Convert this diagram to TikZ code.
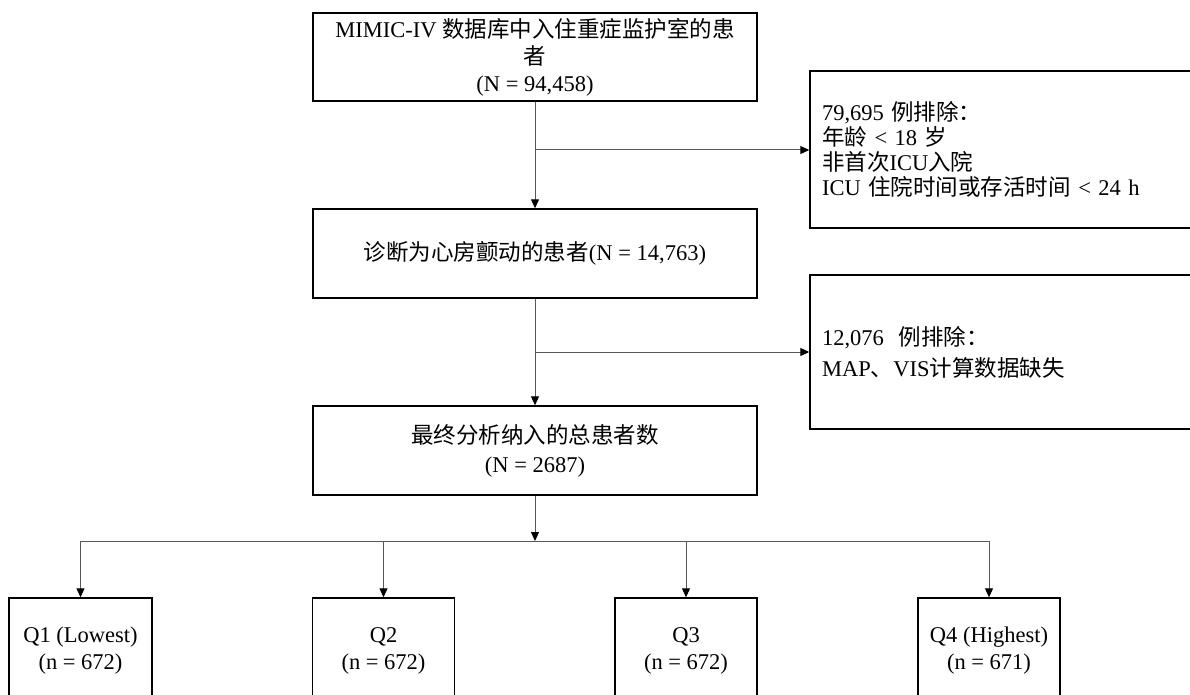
\documentclass[tikz,border=0pt]{standalone}
\usepackage{fontspec}
\setmainfont{Liberation Serif}
\newfontfamily\cjk{Noto Sans CJK SC}
\usetikzlibrary{arrows.meta}
\begin{document}
\begin{tikzpicture}[x=1pt,y=-1pt,
  box/.style={draw=black,line width=1.4pt,rectangle,inner sep=0pt,align=center,
    font=\fontsize{22.5}{27}\selectfont},
  exbox/.style={box,align=left,inner xsep=12pt},
  conn/.style={draw=black!65,line width=1pt},
  arr/.style={conn,-{Triangle[length=9pt,width=8pt,color=black]}}]
\useasboundingbox (0,0) rectangle (1190,695);
\fill[white] (0,0) rectangle (1190,695);
\clip (0,0) rectangle (1190,695);

\node[box,minimum width=444pt,minimum height=88pt] (top) at (535,57)
  {MIMIC-IV {\cjk 数据库中入住重症监护室的患}\\{\cjk 者}\\(N = 94,458)};
\node[exbox,text width=376pt,minimum height=157pt,font=\fontsize{22.5}{25}\selectfont] (ex1) at (1010,149.5)
  {79,695 {\cjk 例排除：}\\{\cjk 年龄} < 18 {\cjk 岁}\\{\cjk 非首次}ICU{\cjk 入院}\\ICU {\cjk 住院时间或存活时间} < 24 h};
\node[box,minimum width=444pt,minimum height=89pt] (mid) at (535,253.5)
  {{\cjk 诊断为心房颤动的患者}(N = 14,763)};
\node[exbox,text width=376pt,minimum height=154pt,font=\fontsize{22.5}{31}\selectfont] (ex2) at (1010,352)
  {12,076~ {\cjk 例排除：}\\MAP{\cjk 、}VIS{\cjk 计算数据缺失}};
\node[box,minimum width=444pt,minimum height=89pt,font=\fontsize{22.5}{29}\selectfont] (fin) at (535,450.5)
  {{\cjk 最终分析纳入的总患者数}\\(N = 2687)};

\node[box,minimum width=143pt,minimum height=106pt] (q1) at (80.5,651) {Q1 (Lowest)\\(n = 672)};
\node[box,minimum width=142pt,minimum height=106pt] (q2) at (383.5,651) {Q2\\(n = 672)};
\node[box,minimum width=142pt,minimum height=106pt] (q3) at (686,651) {Q3\\(n = 672)};
\node[box,minimum width=142pt,minimum height=106pt] (q4) at (989,651) {Q4 (Highest)\\(n = 671)};

\coordinate (b1) at (535,150);
\coordinate (b2) at (535,352);
\coordinate (j) at (535,541);

\draw[arr] (top) -- (mid);
\draw[arr] (b1) -- (b1 -| ex1.west);
\draw[arr] (mid) -- (fin);
\draw[arr] (b2) -- (b2 -| ex2.west);
\draw[arr] (fin) -- (j);
\draw[conn] (q1.north |- j) -- (q4.north |- j);
\foreach \q in {q1,q2,q3,q4}
  \draw[arr] (\q.north |- j) -- (\q);
\end{tikzpicture}
\end{document}
